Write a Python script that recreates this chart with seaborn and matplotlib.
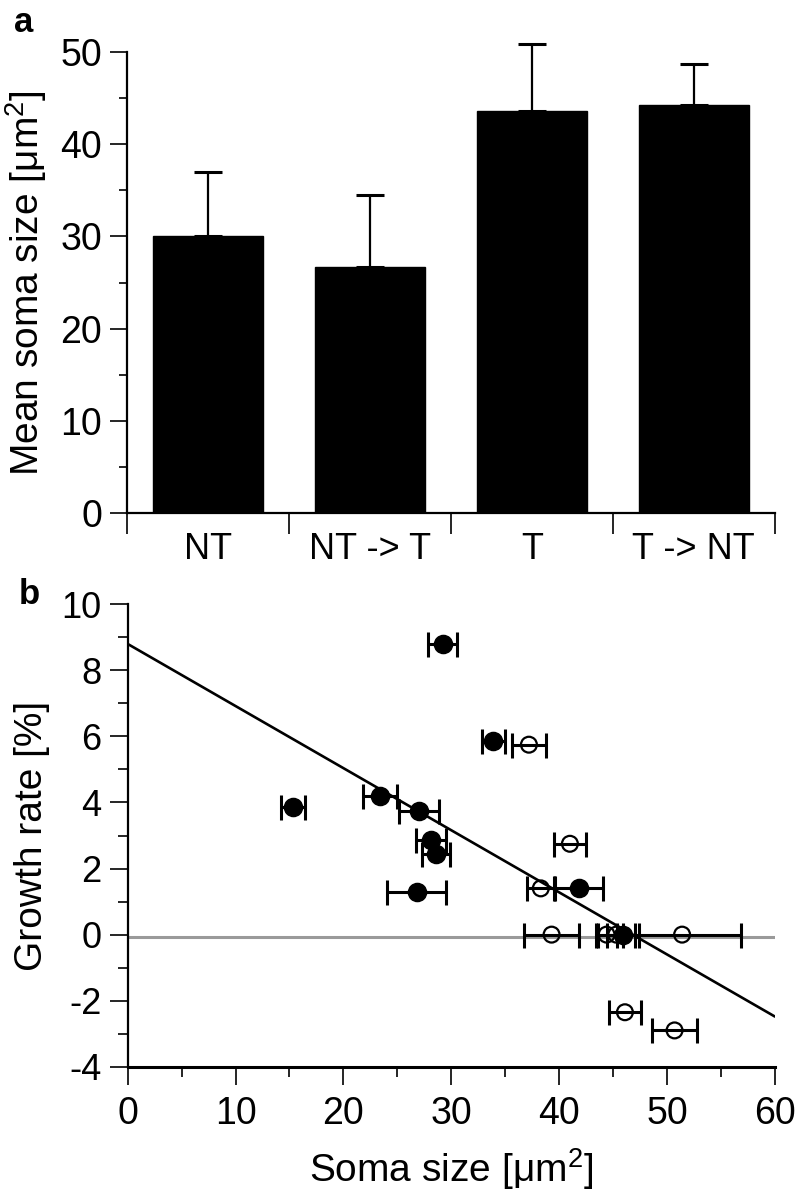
import numpy as np
import matplotlib
matplotlib.use("Agg")
import matplotlib.pyplot as plt
import seaborn as sns

# panel a: mean soma size per group
categories = ["NT", "NT -> T", "T", "T -> NT"]
mean_size = [30.1, 26.7, 43.6, 44.3]
err_size = [6.9, 7.8, 7.3, 4.4]

# panel b: growth rate vs soma size
filled_x = [29.2, 33.9, 15.3, 23.4, 27.0, 28.1, 28.6, 26.8, 41.8, 45.9]
filled_y = [8.8, 5.85, 3.85, 4.2, 3.75, 2.85, 2.45, 1.3, 1.4, 0.0]
filled_xerr = [1.35, 1.05, 1.1, 1.6, 1.85, 1.4, 1.3, 2.75, 2.3, 1.5]

open_x = [37.2, 41.0, 38.3, 39.3, 44.4, 45.3, 51.4, 46.1, 50.7]
open_y = [5.75, 2.75, 1.4, 0.0, 0.0, 0.0, 0.0, -2.35, -2.9]
open_xerr = [1.55, 1.45, 1.3, 2.55, 1.0, 1.7, 5.5, 1.45, 2.1]

fit_intercept = 8.8
fit_slope = -0.188
baseline = -0.08

sns.set_style("ticks")
plt.rcParams["font.family"] = ["Liberation Sans", "DejaVu Sans"]
plt.rcParams["mathtext.fontset"] = "custom"
plt.rcParams["mathtext.rm"] = "Liberation Sans"
plt.rcParams["mathtext.default"] = "regular"
plt.rcParams["axes.unicode_minus"] = False
for key in ("text.color", "axes.labelcolor", "axes.edgecolor", "xtick.color", "ytick.color"):
    plt.rcParams[key] = "black"

fig = plt.figure(figsize=(7.98, 11.99), dpi=100)
ax_a = fig.add_axes([0.159, 0.5721, 0.812, 0.3845])
ax_b = fig.add_axes([0.160, 0.1103, 0.811, 0.3857])

# ---- panel a
sns.barplot(x=categories, y=mean_size, color="black", width=0.68,
            edgecolor="black", errorbar=None, ax=ax_a)
ax_a.errorbar(range(len(categories)), mean_size,
              yerr=[np.zeros(len(err_size)), err_size], fmt="none",
              ecolor="black", elinewidth=1.6, capsize=10, capthick=2.2,
              clip_on=False)
ax_a.set_xlim(-0.5, 3.5)
ax_a.set_ylim(0, 50)
ax_a.set_yticks(range(0, 51, 10))
ax_a.set_yticks(range(5, 50, 10), minor=True)
ax_a.set_xticks([-0.5, 0.5, 1.5, 2.5, 3.5])
ax_a.set_xticklabels([])
ax_a.set_xticks(range(4), minor=True)
ax_a.set_xticklabels(categories, minor=True)
ax_a.tick_params(axis="x", which="major", length=15, width=1.2, direction="out")
ax_a.tick_params(axis="x", which="minor", length=0, pad=14, labelsize=26)
ax_a.tick_params(axis="y", which="major", length=12, width=1.2, pad=6, labelsize=27)
ax_a.tick_params(axis="y", which="minor", length=6, width=1.2)
ax_a.set_xlabel("")
ax_a.set_ylabel("Mean soma size [μm$^{2}$]", fontsize=28, labelpad=8)
sns.despine(ax=ax_a)
for s in ("left", "bottom"):
    ax_a.spines[s].set_linewidth(1.6)

# ---- panel b
ax_b.axhline(baseline, color="#9a9a9a", lw=2.2, zorder=1)
ax_b.axline((0, fit_intercept), slope=fit_slope, color="black", lw=1.9, zorder=2)
ax_b.errorbar(filled_x, filled_y, xerr=filled_xerr, fmt="none", ecolor="black",
              elinewidth=2.2, capsize=9, capthick=2.2, zorder=3)
ax_b.errorbar(open_x, open_y, xerr=open_xerr, fmt="none", ecolor="black",
              elinewidth=2.2, capsize=9, capthick=2.2, zorder=3)
sns.scatterplot(x=filled_x, y=filled_y, color="black", edgecolor="black",
                s=170, marker="o", ax=ax_b, zorder=4)
sns.scatterplot(x=open_x, y=open_y, color="black", s=130, marker="o",
                linewidth=1.6, ax=ax_b, zorder=4)
ax_b.collections[-1].set_facecolor("none")
ax_b.collections[-1].set_edgecolor("black")

ax_b.set_xlim(0, 60)
ax_b.set_ylim(-4, 10)
ax_b.set_xticks(range(0, 61, 10))
ax_b.set_xticks(range(5, 60, 10), minor=True)
ax_b.set_yticks(range(-4, 11, 2))
ax_b.set_yticks(range(-3, 10, 2), minor=True)
ax_b.tick_params(axis="x", which="major", length=13, width=1.2, pad=8, labelsize=27)
ax_b.tick_params(axis="x", which="minor", length=7, width=1.2)
ax_b.tick_params(axis="y", which="major", length=13, width=1.2, pad=6, labelsize=26)
ax_b.tick_params(axis="y", which="minor", length=7, width=1.2)
ax_b.set_xlabel("Soma size [μm$^{2}$]", fontsize=28, labelpad=10)
ax_b.set_ylabel("Growth rate [%]", fontsize=28, labelpad=8)
sns.despine(ax=ax_b)
ax_b.spines["left"].set_linewidth(1.6)
ax_b.spines["bottom"].set_linewidth(2.2)

fig.text(0.018, 0.995, "a", fontsize=25, fontweight="bold", va="top", ha="left")
fig.text(0.024, 0.518, "b", fontsize=25, fontweight="bold", va="top", ha="left")

fig.savefig("out.png", dpi=100)
